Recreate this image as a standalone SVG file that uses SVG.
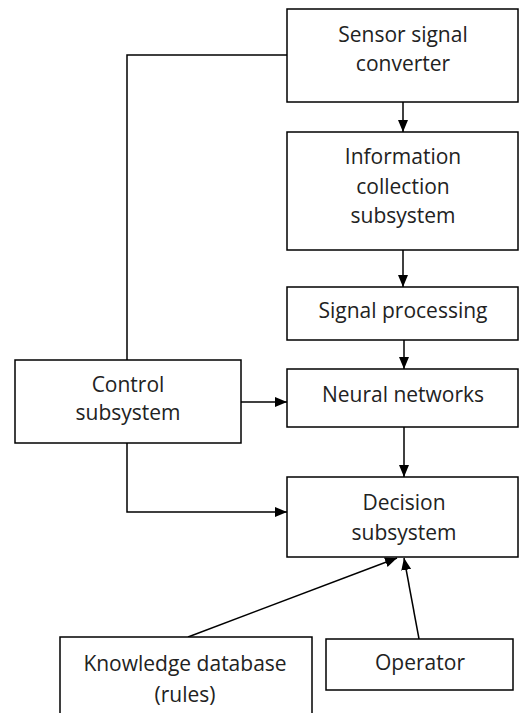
<svg xmlns="http://www.w3.org/2000/svg" width="520" height="713" viewBox="0 0 520 713">
  <style>
    .box { fill: #fff; stroke: #000; stroke-width: 1.5; }
    .lbl { font-family: "Open Sans", "Liberation Sans", sans-serif; font-size: 21px; fill: #222; text-anchor: middle; }
    .wire { fill: none; stroke: #000; stroke-width: 1.5; }
  </style>
  <defs>
    <marker id="arrow" viewBox="0 0 12 10" refX="12" refY="5" markerWidth="12" markerHeight="10" markerUnits="userSpaceOnUse" orient="auto">
      <path d="M0,0 L12,5 L0,10 Z" fill="#000"/>
    </marker>
  </defs>
  <rect width="520" height="713" fill="#fff"/>

  <g id="connectors">
    <polyline class="wire" points="287,55 127,55 127,360"/>
    <line class="wire" x1="403" y1="102" x2="403" y2="132" marker-end="url(#arrow)"/>
    <line class="wire" x1="403" y1="250" x2="403" y2="287" marker-end="url(#arrow)"/>
    <line class="wire" x1="404" y1="340" x2="404" y2="369" marker-end="url(#arrow)"/>
    <line class="wire" x1="241" y1="402" x2="287" y2="402" marker-end="url(#arrow)"/>
    <line class="wire" x1="404" y1="427" x2="404" y2="477" marker-end="url(#arrow)"/>
    <polyline class="wire" points="127,443 127,512 287,512" marker-end="url(#arrow)"/>
    <line class="wire" x1="188" y1="637" x2="397" y2="558" marker-end="url(#arrow)"/>
    <line class="wire" x1="419" y1="639" x2="404" y2="558" marker-end="url(#arrow)"/>
  </g>

  <g id="sensor">
    <rect class="box" x="287" y="9" width="231" height="93"/>
    <text class="lbl" x="403" y="42">Sensor signal</text>
    <text class="lbl" x="403" y="71">converter</text>
  </g>
  <g id="info">
    <rect class="box" x="287" y="132" width="231" height="118"/>
    <text class="lbl" x="403" y="164">Information</text>
    <text class="lbl" x="403" y="194">collection</text>
    <text class="lbl" x="403" y="223">subsystem</text>
  </g>
  <g id="signal">
    <rect class="box" x="287" y="287" width="231" height="53"/>
    <text class="lbl" x="403" y="318">Signal processing</text>
  </g>
  <g id="neural">
    <rect class="box" x="287" y="369" width="231" height="58"/>
    <text class="lbl" x="403" y="402">Neural networks</text>
  </g>
  <g id="control">
    <rect class="box" x="15" y="360" width="226" height="83"/>
    <text class="lbl" x="128" y="392">Control</text>
    <text class="lbl" x="128" y="420">subsystem</text>
  </g>
  <g id="decision">
    <rect class="box" x="287" y="477" width="231" height="80"/>
    <text class="lbl" x="404" y="510">Decision</text>
    <text class="lbl" x="404" y="540">subsystem</text>
  </g>
  <g id="knowledge">
    <rect class="box" x="60" y="637" width="252" height="90"/>
    <text class="lbl" x="185" y="671">Knowledge database</text>
    <text class="lbl" x="185" y="702">(rules)</text>
  </g>
  <g id="operator">
    <rect class="box" x="326" y="639" width="187" height="51"/>
    <text class="lbl" x="420" y="670">Operator</text>
  </g>
</svg>
